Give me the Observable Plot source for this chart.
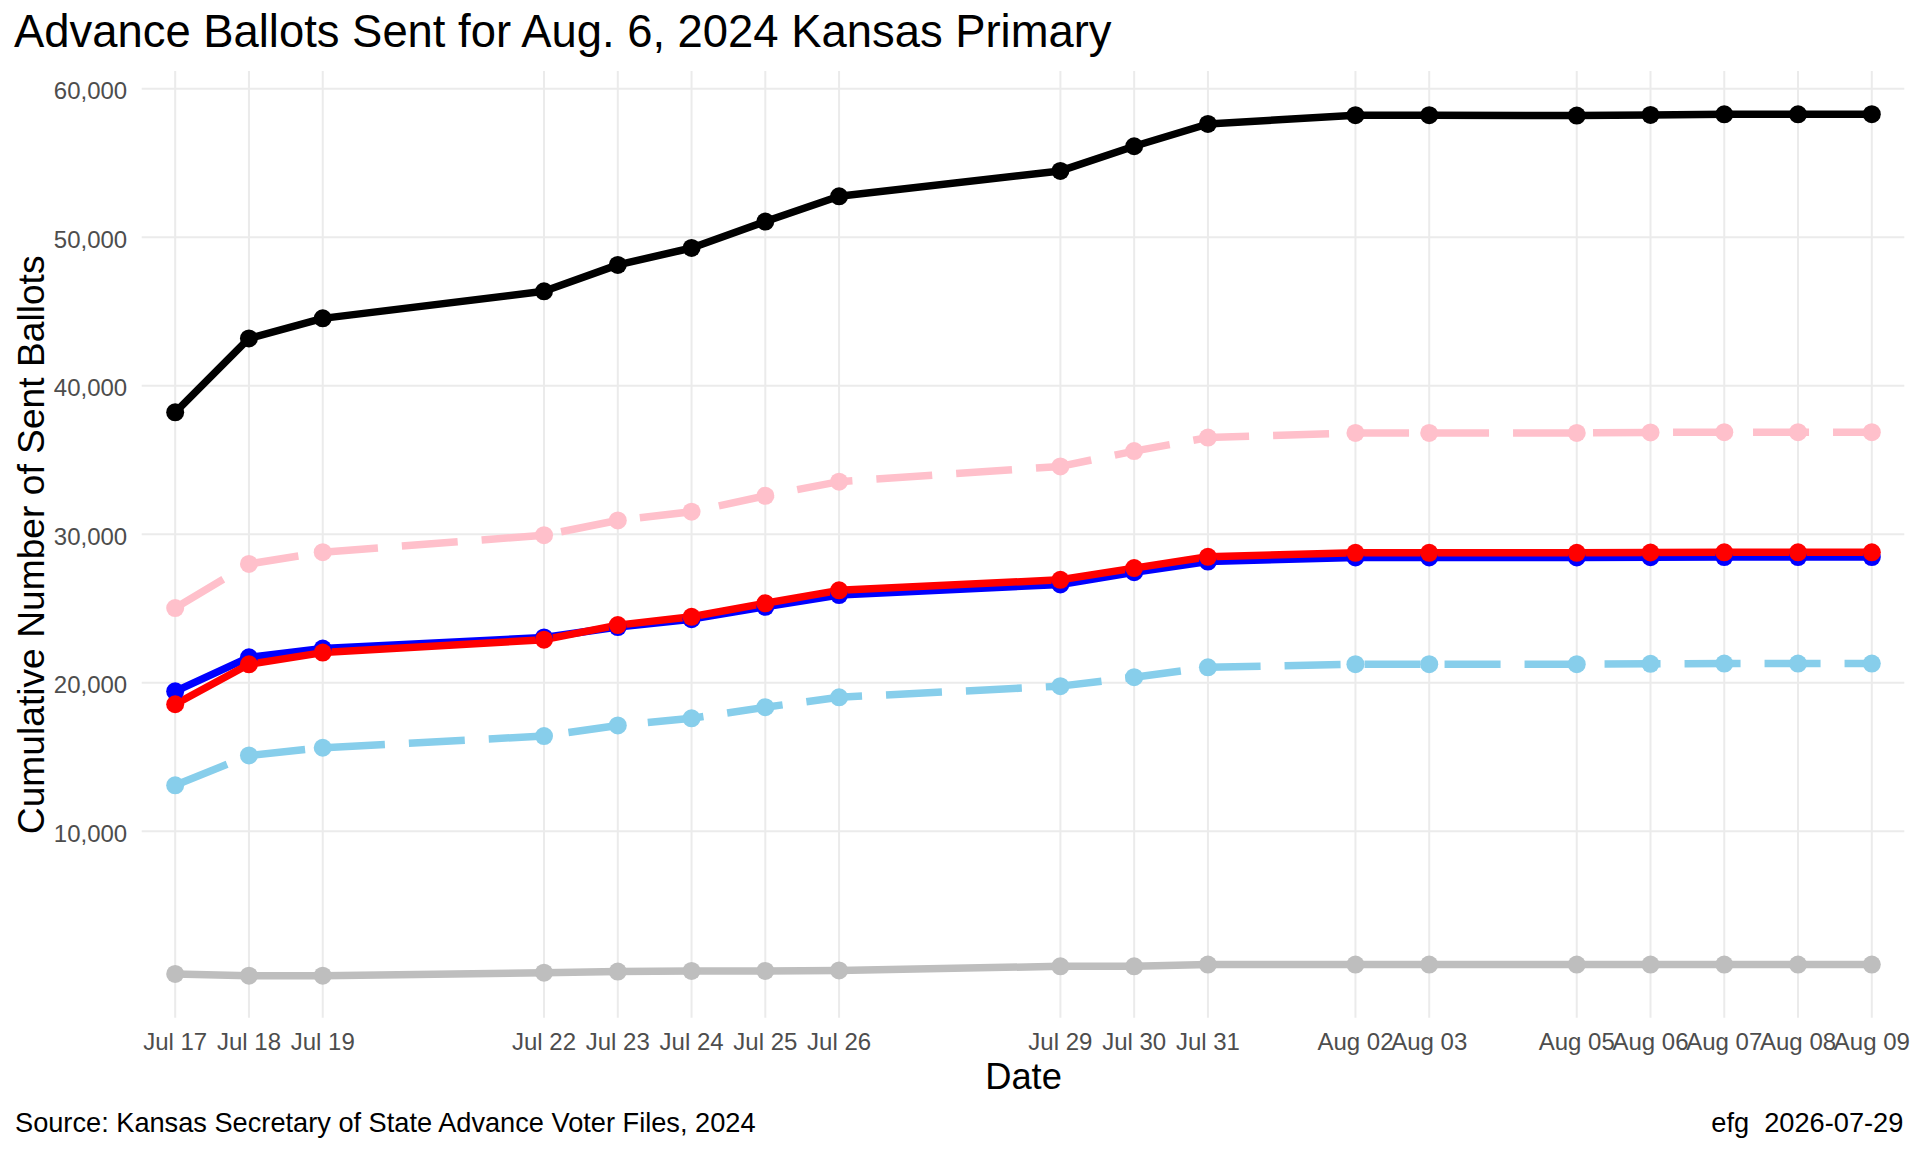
<!DOCTYPE html>
<html><head><meta charset="utf-8">
<script src="https://cdn.jsdelivr.net/npm/d3@7"></script>
<script src="https://cdn.jsdelivr.net/npm/@observablehq/plot@0.6"></script>
<style>
body{margin:0;background:#fff;font-family:"Liberation Sans",Arial,sans-serif;}
#title{height:64px;line-height:64px;font-size:45.4px;padding-left:14px;color:#000;white-space:nowrap;}
#chart svg{display:block}
#caption{display:flex;justify-content:space-between;height:46px;line-height:46px;font-size:27.2px;padding:0 16.7px 0 15px;white-space:pre;color:#000}
</style></head><body>
<div id="title">Advance Ballots Sent for Aug. 6, 2024 Kansas Primary</div>
<div id="chart"></div>
<div id="caption"><span>Source: Kansas Secretary of State Advance Voter Files, 2024</span><span>efg  2026-07-29</span></div>
<script>
// ---- data ----
const dateLabels = ["2024-07-17","2024-07-18","2024-07-19","2024-07-22","2024-07-23","2024-07-24","2024-07-25","2024-07-26","2024-07-29","2024-07-30","2024-07-31","2024-08-02","2024-08-03","2024-08-05","2024-08-06","2024-08-07","2024-08-08","2024-08-09"];
const total      = [38210,43190,44540,46360,48140,49280,51060,52760,54470,56130,57630,58220,58220,58200,58240,58280,58280,58290];
const female     = [25030,28000,28790,29940,30930,31520,32590,33540,34570,35600,36510,36820,36820,36820,36860,36870,36870,36870];
const democrat   = [19420,21710,22300,23050,23750,24280,25110,25900,26620,27440,28160,28440,28440,28440,28450,28460,28460,28460];
const republican = [18550,21240,22030,22900,23880,24440,25350,26220,26930,27720,28480,28750,28750,28750,28770,28780,28780,28780];
const male       = [13090,15100,15620,16410,17120,17600,18350,19020,19770,20370,21040,21250,21250,21250,21270,21290,21290,21290];
const other      = [390,270,270,470,550,590,590,625,900,900,1020,1020,1020,1020,1020,1020,1020,1020];
const yTicks = [10000,20000,30000,40000,50000,60000];

// ---- styling per series ----
const seriesList = [
  {name:"Total", values: total, color:"black"},
  {name:"Female", values: female, color:"pink", dash:"56,24"},
  {name:"Democrat", values: democrat, color:"blue"},
  {name:"Republican", values: republican, color:"red"},
  {name:"Male", values: male, color:"skyblue", dash:"56,24"},
  {name:"Other", values: other, color:"#BEBEBE"}
];

const parse = d3.timeParse("%Y-%m-%d");
const dates = dateLabels.map(parse);
const rows = seriesList.flatMap(s => s.values.map((v, i) => ({date: dates[i], value: v, series: s.name})));
const pad = 644; // minutes of padding on each side of the date range
const xDomain = [d3.timeMinute.offset(dates[0], -pad), d3.timeMinute.offset(dates[dates.length - 1], pad)];
const font = '"Liberation Sans", Arial, sans-serif';

const lineMarks = seriesList.map(s => Plot.line(rows.filter(r => r.series === s.name), {
  x: "date", y: "value", stroke: s.color, strokeWidth: 7.5,
  strokeDasharray: s.dash, strokeLinejoin: "round", strokeLinecap: "butt"
}));
const dotMarks = seriesList.map(s => Plot.dot(rows.filter(r => r.series === s.name), {
  x: "date", y: "value", r: 9, fill: s.color
}));

const chart = Plot.plot({
  width: 1920, height: 1036,
  marginLeft: 141.7, marginRight: 15.7, marginTop: 7, marginBottom: 82.3,
  style: {fontFamily: font, background: "#fff", overflow: "visible"},
  x: {type: "time", domain: xDomain},
  y: {domain: [-2594, 61165]},
  marks: [
    Plot.gridX({ticks: dates, stroke: "#EBEBEB", strokeOpacity: 1, strokeWidth: 2}),
    Plot.gridY({ticks: yTicks, stroke: "#EBEBEB", strokeOpacity: 1, strokeWidth: 2}),
    Plot.axisX({ticks: dates, tickFormat: d3.timeFormat("%b %d"), tickSize: 0, tickPadding: 14.3,
      fontSize: 24, fill: "#4D4D4D", label: null}),
    Plot.axisY({ticks: yTicks, tickFormat: d3.format(","), tickSize: 0, tickPadding: 15,
      fontSize: 24, fill: "#4D4D4D", label: null, dy: 3}),
    ...lineMarks,
    ...dotMarks,
    Plot.text(["Cumulative Number of Sent Ballots"], {text: d => d, frameAnchor: "left", rotate: -90,
      textAnchor: "middle", lineAnchor: "bottom", dx: 43.3 - 141.7, fontSize: 37.2, fill: "black"}),
    Plot.text(["Date"], {text: d => d, frameAnchor: "bottom", textAnchor: "middle", lineAnchor: "bottom",
      dy: 71, fontSize: 36.3, fill: "black"})
  ]
});
document.getElementById("chart").append(chart);
</script>
</body></html>
